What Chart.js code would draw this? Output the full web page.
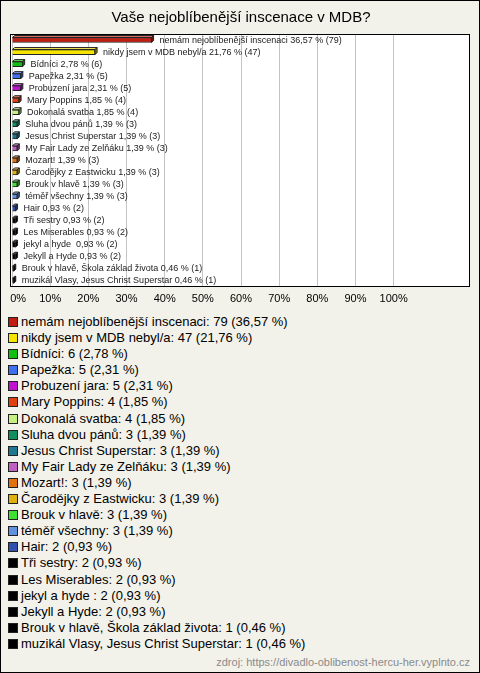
<!DOCTYPE html>
<html>
<head>
<meta charset="utf-8">
<script src="https://cdn.jsdelivr.net/npm/chart.js@4.4.1/dist/chart.umd.min.js"></script>
<style>
    html, body { margin: 0; padding: 0; }
    body { width: 480px; height: 673px; font-family: "Liberation Sans", Arial, sans-serif; }
    #frame {
        position: relative; width: 480px; height: 673px; box-sizing: border-box;
        border: 1px solid #000; background: #f3f2ea; overflow: hidden;
    }
    #chartBox { position: absolute; left: -1px; top: -1px; width: 480px; height: 312px; }
    #legend { position: absolute; left: 7px; top: 313px; font-size: 13px; color: #000; }
    .legend-row { height: 16.1px; line-height: 16.1px; white-space: nowrap; }
    .legend-box {
        display: inline-block; width: 8px; height: 8px; border: 1px solid #222;
        margin-right: 3px; vertical-align: -1px;
    }
    #source { position: absolute; right: 9px; top: 655px; font-size: 11px; color: #8a8a8a; }
</style>
</head>
<body>
<div id="frame">
    <div id="chartBox"><canvas id="pollChart"></canvas></div>
    <div id="legend"></div>
    <div id="source">zdroj: https://divadlo-oblibenost-hercu-her.vyplnto.cz</div>
</div>
<script>
const titleText = 'Vaše nejoblíbenější inscenace v MDB?';

const answers = [
    'nemám nejoblíbenější inscenaci', 'nikdy jsem v MDB nebyl/a', 'Bídníci', 'Papežka',
    'Probuzení jara', 'Mary Poppins', 'Dokonalá svatba', 'Sluha dvou pánů',
    'Jesus Christ Superstar', 'My Fair Lady ze Zelňáku', 'Mozart!', 'Čarodějky z Eastwicku',
    'Brouk v hlavě', 'téměř všechny', 'Hair', 'Tři sestry', 'Les Miserables', 'jekyl a hyde ',
    'Jekyll a Hyde', 'Brouk v hlavě, Škola základ života', 'muzikál Vlasy, Jesus Christ Superstar'
];
const votes = [79, 47, 6, 5, 5, 4, 4, 3, 3, 3, 3, 3, 3, 3, 2, 2, 2, 2, 2, 1, 1];
const percents = [36.57, 21.76, 2.78, 2.31, 2.31, 1.85, 1.85, 1.39, 1.39, 1.39, 1.39, 1.39,
    1.39, 1.39, 0.93, 0.93, 0.93, 0.93, 0.93, 0.46, 0.46];
const barColors = ['#c01c10', '#f4e400', '#10c010', '#4070f0', '#c010d0', '#e04010', '#c8f080',
    '#109060', '#207890', '#c060c0', '#e07010', '#e0b010', '#40e030', '#6090e0', '#3050b0',
    '#000000', '#000000', '#000000', '#000000', '#000000', '#000000'];
const xTicks = [0, 10, 20, 30, 40, 50, 60, 70, 80, 90, 100];

const fmt = v => v.toFixed(2).replace('.', ',');

// legend list below the chart
const legendEl = document.getElementById('legend');
answers.forEach((a, i) => {
    const row = document.createElement('div');
    row.className = 'legend-row';
    row.innerHTML = `<span class="legend-box" style="background:${barColors[i]}"></span>${a}: ${votes[i]} (${fmt(percents[i])} %)`;
    legendEl.appendChild(row);
});

function shade(hex, f) {
    const n = parseInt(hex.slice(1), 16);
    let r = (n >> 16) & 255, g = (n >> 8) & 255, b = n & 255;
    const m = c => Math.max(0, Math.min(255, Math.round(f < 0 ? c * (1 + f) : c + (255 - c) * f)));
    return `rgb(${m(r)},${m(g)},${m(b)})`;
}

const plotBox = {
    id: 'plotBox',
    beforeDraw(chart) {
        const { ctx, chartArea: a } = chart;
        ctx.save();
        ctx.fillStyle = '#fff';
        ctx.fillRect(a.left - 1, a.top, a.right - a.left + 1, a.bottom - a.top);
        ctx.restore();
    },
    afterDraw(chart) {
        const { ctx, chartArea: a } = chart;
        ctx.save();
        ctx.strokeStyle = '#000';
        ctx.lineWidth = 1;
        ctx.strokeRect(Math.round(a.left) - 1.5, Math.round(a.top) + 0.5,
            Math.round(a.right - a.left) + 1, Math.round(a.bottom - a.top) - 1);
        ctx.restore();
    }
};

// 3d-ish caps and value labels next to each bar
const barExtras = {
    id: 'barExtras',
    afterDatasetsDraw(chart) {
        const ctx = chart.ctx;
        const meta = chart.getDatasetMeta(0);
        const d = 2;
        ctx.save();
        meta.data.forEach((bar, i) => {
            const x0 = bar.base, x1 = bar.x, h = bar.height;
            const top = bar.y - h / 2, bot = bar.y + h / 2;
            ctx.lineWidth = 1;
            ctx.strokeStyle = '#222';
            // top face
            ctx.beginPath();
            ctx.moveTo(x0, top); ctx.lineTo(x0 + d, top - d);
            ctx.lineTo(x1 + d, top - d); ctx.lineTo(x1, top); ctx.closePath();
            ctx.fillStyle = shade(barColors[i], 0.35);
            ctx.fill(); ctx.stroke();
            // right face
            ctx.beginPath();
            ctx.moveTo(x1, top); ctx.lineTo(x1 + d, top - d);
            ctx.lineTo(x1 + d, bot - d); ctx.lineTo(x1, bot); ctx.closePath();
            ctx.fillStyle = shade(barColors[i], -0.4);
            ctx.fill(); ctx.stroke();

            ctx.fillStyle = '#222';
            ctx.font = '9px "Liberation Sans", Arial, sans-serif';
            ctx.textBaseline = 'middle';
            ctx.fillText(`${answers[i]} ${fmt(percents[i])} % (${votes[i]})`, x1 + 8, bar.y);
        });
        ctx.restore();
    }
};

new Chart(document.getElementById('pollChart'), {
    type: 'bar',
    data: {
        labels: answers,
        datasets: [{
            data: percents,
            backgroundColor: barColors,
            borderColor: '#222',
            borderWidth: 1,
            barThickness: 5
        }]
    },
    options: {
        indexAxis: 'y',
        responsive: true,
        maintainAspectRatio: false,
        animation: false,
        layout: { padding: { left: 12, right: 10, bottom: 0 } },
        plugins: {
            legend: { display: false },
            tooltip: { enabled: false },
            title: {
                display: true, text: titleText, color: '#000',
                font: { family: '"Liberation Sans", Arial, sans-serif', size: 15, weight: 'normal' },
                padding: { top: 9, bottom: 7 }
            }
        },
        scales: {
            x: {
                min: 0, max: 120,
                afterBuildTicks: axis => { axis.ticks = xTicks.map(v => ({ value: v })); },
                afterFit: axis => { axis.paddingLeft = 0; axis.paddingRight = 0; },
                grid: { color: '#c4c4c4', drawTicks: false },
                border: { display: false },
                ticks: {
                    color: '#000', padding: 6, maxRotation: 0,
                    font: { family: '"Liberation Sans", Arial, sans-serif', size: 11 },
                    callback: v => (v === 0 ? '    ' : '') + v + '%'
                }
            },
            y: { display: false }
        }
    },
    plugins: [plotBox, barExtras]
});
</script>
</body>
</html>
